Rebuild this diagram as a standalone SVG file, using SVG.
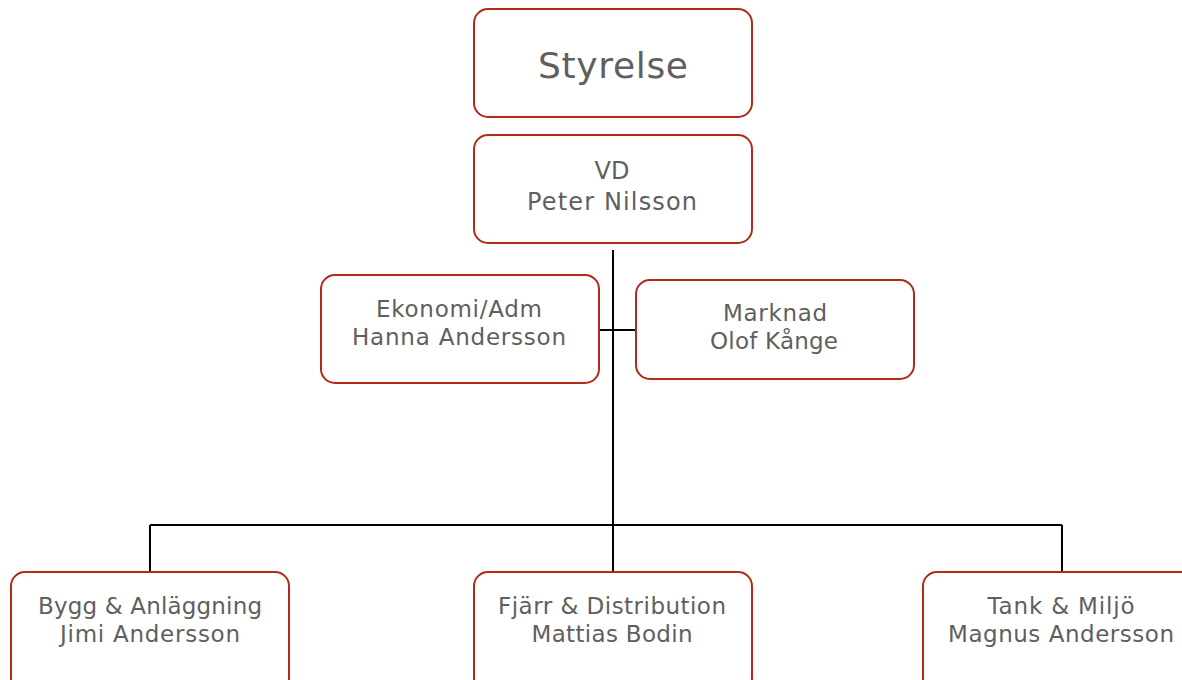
<svg xmlns="http://www.w3.org/2000/svg" width="1182" height="680" viewBox="0 0 1182 680">
<style>
.box{fill:#fff;stroke:#b02a18;stroke-width:2}
.t{font-family:"DejaVu Sans",Verdana,sans-serif;font-size:23px;fill:#5f5f5f;text-anchor:middle}
.m{font-size:24px}
.big{font-size:36px}
.ln{stroke:#000;stroke-width:2;fill:none}
</style>
<rect width="1182" height="680" fill="#fff"/>
<g id="connectors">
<path class="ln" d="M613 250V572M597 330H636M150 525H1062M150 525V572M1062 525V572"/>
</g>
<g id="styrelse"><rect class="box" x="474" y="9" width="278" height="108" rx="14"/><text class="t big" x="613" y="78" textLength="150" lengthAdjust="spacing">Styrelse</text></g>
<g id="vd"><rect class="box" x="474" y="135" width="278" height="108" rx="14"/><text class="t m" x="612" y="179" textLength="35" lengthAdjust="spacing">VD</text><text class="t m" x="612" y="210" textLength="170" lengthAdjust="spacing">Peter Nilsson</text></g>
<g id="ekonomi"><rect class="box" x="321" y="275" width="278" height="108" rx="14"/><text class="t" x="459" y="317" textLength="166" lengthAdjust="spacing">Ekonomi/Adm</text><text class="t" x="459" y="345" textLength="214" lengthAdjust="spacing">Hanna Andersson</text></g>
<g id="marknad"><rect class="box" x="636" y="280" width="278" height="99" rx="14"/><text class="t" x="775" y="321" textLength="104" lengthAdjust="spacing">Marknad</text><text class="t" x="774" y="349" textLength="128" lengthAdjust="spacing">Olof Kånge</text></g>
<g id="bygg"><rect class="box" x="11" y="572" width="278" height="120" rx="14"/><text class="t" x="150" y="614" textLength="224" lengthAdjust="spacing">Bygg &amp; Anläggning</text><text class="t" x="150" y="642" textLength="180" lengthAdjust="spacing">Jimi Andersson</text></g>
<g id="fjarr"><rect class="box" x="474" y="572" width="278" height="120" rx="14"/><text class="t" x="612" y="614" textLength="228" lengthAdjust="spacing">Fjärr &amp; Distribution</text><text class="t" x="612" y="642" textLength="161" lengthAdjust="spacing">Mattias Bodin</text></g>
<g id="tank"><rect class="box" x="923" y="572" width="278" height="120" rx="14"/><text class="t" x="1061" y="614" textLength="147" lengthAdjust="spacing">Tank &amp; Miljö</text><text class="t" x="1061" y="642" textLength="226" lengthAdjust="spacing">Magnus Andersson</text></g>
</svg>
